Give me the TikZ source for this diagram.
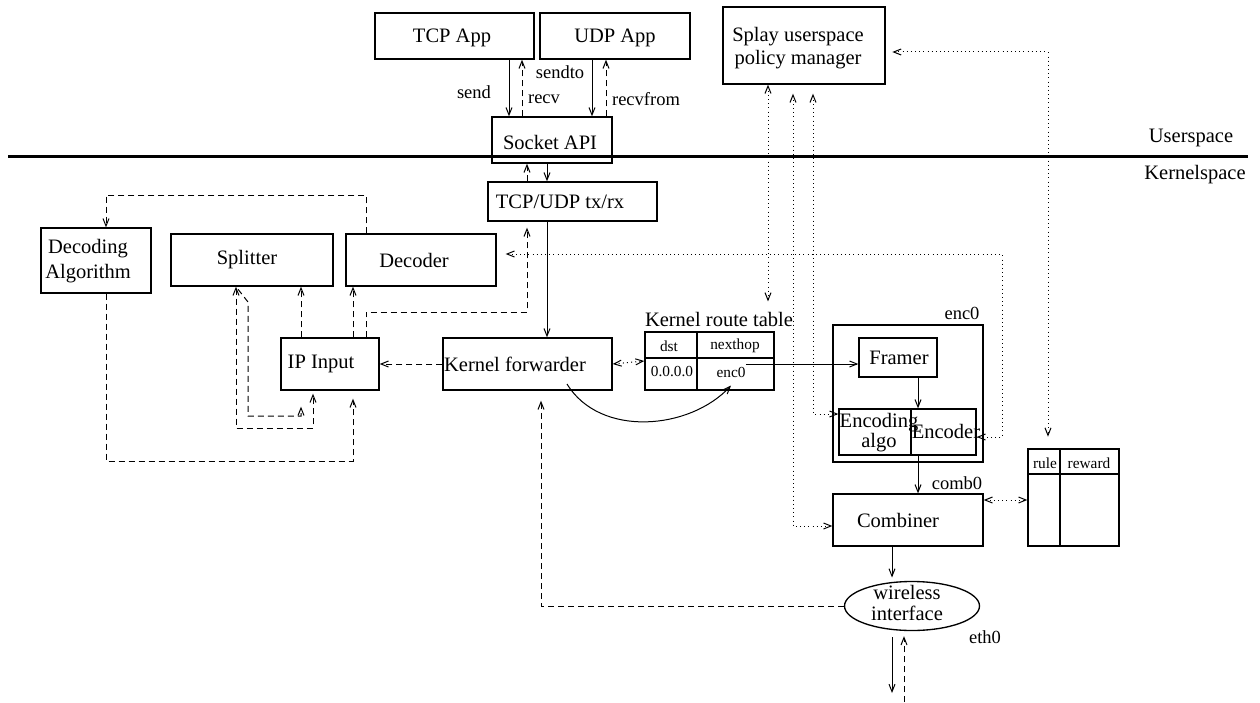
\documentclass[tikz,border=0pt]{standalone}
\usepackage{fontspec}
\setmainfont{Liberation Serif}
\usetikzlibrary{arrows.meta}
\usetikzlibrary{fit}
\usetikzlibrary{shapes.geometric}

\tikzset{
  blk/.style={draw, line width=0.8pt, inner sep=0pt},
  txt/.style={inner sep=0pt, font=\fontsize{12.3}{13.5}\selectfont},
  lbl/.style={inner sep=0pt, font=\fontsize{11.1}{13}\selectfont},
  cell/.style={inner sep=0pt, font=\fontsize{9.2}{11}\selectfont},
  wire/.style={line width=0.6pt, >={Straight Barb[length=4.5pt,width=3.6pt]}},
  dsh/.style={wire, dash pattern=on 3.6pt off 2.4pt},
  dts/.style={wire, dash pattern=on 0.6pt off 1.9pt},
}

\begin{document}
\begin{tikzpicture}[x=0.6pt, y=-0.6pt]
\useasboundingbox (0,0) rectangle (1260,702);

% user / kernel border
\draw[line width=1.8pt] (8,156) -- (1248,156);
\node[txt] (us) at (1191,138) {Userspace};
\node[txt] (ks) at (1195,175) {Kernelspace};

% userspace
\node[blk, fit={(375,13) (534,59)}] (tcpapp) {};
\node[txt] (tcpapptxt) at (452,38) {TCP App};
\node[blk, fit={(540,13) (690,59)}] (udpapp) {};
\node[txt] (udpapptxt) at (615,38) {UDP App};
\node[blk, fit={(723,7) (885,84)}] (splay) {};
\node[txt, align=center] (splaytxt) at (798,48) {Splay userspace\\policy manager};
\node[blk, fit={(492,117) (612,163)}] (sock) {};
\node[txt] (socktxt) at (550,142) {Socket API};

% kernel blocks
\node[blk, fit={(488,182) (657,221)}] (tcpudp) {};
\node[txt] (tcpudptxt) at (560,202) {TCP/UDP tx/rx};
\node[blk, fit={(41,228) (151,293)}] (decalg) {};
\node[txt, align=center, font=\fontsize{12.3}{15}\selectfont] (decalgtxt) at (88,261) {Decoding\\Algorithm};
\node[blk, fit={(171,234) (333,286)}] (split) {};
\node[txt] (splittxt) at (247,260) {Splitter};
\node[blk, fit={(346,234) (496,286)}] (dec) {};
\node[txt] (dectxt) at (414,260) {Decoder};
\node[blk, fit={(281,338) (379,390)}] (ipin) {};
\node[txt] (ipintxt) at (321,364) {IP Input};
\node[blk, fit={(443,338) (612,390)}] (kfwd) {};
\node[txt] (kfwdtxt) at (515,364) {Kernel forwarder};

% route table
\node[blk, fit={(645,332) (774,390)}] (rtab) {};
\draw[line width=0.8pt] (rtab.west |- 0,358) -- (rtab.east |- 0,358);
\draw[line width=0.8pt] (697,0 |- rtab.north) -- (697,0 |- rtab.south);
\node[txt] (rtabtxt) at (719,319) {Kernel route table};
\node[cell] (dst) at (669,346) {dst};
\node[cell] (nexthop) at (735,346) {nexthop};
\node[cell] (dest) at (672,372) {0.0.0.0};
\node[cell] (hop) at (731,372) {enc0};

% encoder
\node[blk, fit={(833,325) (983,462)}] (enc) {};
\node[lbl] (enctxt) at (962,313) {enc0};
\node[blk, fit={(859,338) (937,377)}] (framer) {};
\node[txt] (framertxt) at (899,358) {Framer};
\node[blk, fit={(839,409) (976,455)}] (encbox) {};
\draw[line width=0.8pt] (911,0 |- encbox.north) -- (911,0 |- encbox.south);
\node[txt, align=center, font=\fontsize{12.3}{12}\selectfont] (algotxt) at (879,433) {Encoding\\algo};
\node[txt] (encodertxt) at (946,431) {Encoder};

% combiner and rules
\node[lbl] (combtxt) at (957,483) {comb0};
\node[blk, fit={(833,494) (983,546)}] (comb) {};
\node[txt] (combintxt) at (898,520) {Combiner};
\node[blk, fit={(1028,449) (1119,546)}] (rules) {};
\draw[line width=0.8pt] (rules.west |- 0,474) -- (rules.east |- 0,474);
\draw[line width=0.8pt] (1060,0 |- rules.north) -- (1060,0 |- rules.south);
\node[cell] (rule) at (1045,463) {rule};
\node[cell] (reward) at (1089,463) {reward};

% interface
\node[draw, ellipse, line width=0.8pt, minimum width=81pt, minimum height=29.4pt, inner sep=0pt] (wifi) at (912,606) {};
\node[txt, align=center, font=\fontsize{12.3}{13}\selectfont] (wifitxt) at (907,603) {wireless\\interface};
\node[lbl] (eth) at (985,637) {eth0};
\coordinate (tx) at (892,693);
\coordinate (rx) at (904,702);

% socket calls
\node[lbl] (sendtxt) at (474,92) {send};
\node[lbl] (recvtxt) at (544,99) {recv};
\node[lbl] (sendtotxt) at (560,72) {sendto};
\node[lbl] (recvfromtxt) at (646,99) {recvfrom};
\draw[wire,->] (tcpapp.south -| 509,0) -- (sock.north -| 509,0);
\draw[dsh,->] (sock.north -| 522,0) -- (tcpapp.south -| 522,0);
\draw[wire,->] (udpapp.south -| 592,0) -- (sock.north -| 592,0);
\draw[dsh,->] (sock.north -| 606,0) -- (udpapp.south -| 606,0);
\draw[dsh,->] (tcpudp.north -| 527,0) -- (sock.south -| 527,0);
\draw[wire,->] (sock.south -| 547,0) -- (tcpudp.north -| 547,0);
\draw[wire,->] (tcpudp.south -| 547,0) -- (kfwd.north -| 547,0);

% receive side
\draw[dsh,->] (kfwd.west) -- (ipin.east);
\draw[dsh,->] (ipin.north -| 301,0) -- (split.south -| 301,0);
\draw[dsh,->] (ipin.north -| 353,0) -- (dec.south -| 353,0);
\draw[dsh,->,shorten >=3.6pt] (ipin.north -| 366,0) -- (366,312) -- (527,312) -- (tcpudp.south -| 527,0);
\draw[dsh,->] (dec.north -| 366,0) -- (366,195) -- (106,195) -- (decalg.north -| 106,0);
\draw[dsh,->,shorten >=4.8pt] (decalg.south -| 106,0) -- (106,461) -- (353,461) -- (ipin.south -| 353,0);
\draw[dsh,<->,shorten >=1.8pt] (split.south -| 236,0) -- (236,428) -- (313,428) -- (ipin.south -| 313,0);
\draw[dsh,->,shorten <=2pt,shorten >=9.6pt] (split.south -| 236,0) -- (248,302) -- (248,416) -- (301,416) -- (ipin.south -| 301,0);
\draw[dsh,->,shorten >=6pt] (wifi.west) -- (541,606) -- (kfwd.south -| 541,0);

% send side
\draw[dts,<->] (kfwd.east) -- (rtab.west);
\draw[wire,->] ([yshift=4pt]kfwd.south -| 567,0) .. controls (600,438) and (690,430) .. ([yshift=-4.8pt]hop.south);
\draw[wire,->] (hop.east |- kfwd.east) -- (framer.west |- kfwd.east);
\draw[wire,->] (framer.south -| 918,0) -- (encbox.north -| 918,0);
\draw[wire,->] (encbox.south -| 918,0) -- (comb.north -| 918,0);
\draw[wire,->,shorten >=2pt] (comb.south -| 892,0) -- (wifi.north -| 892,0);
\draw[wire,->,shorten <=3.6pt] (wifi.south -| tx) -- (tx);
\draw[dsh,->,shorten >=3pt] (rx) -- (wifi.south -| rx);

% policy manager control
\draw[dts,<->,shorten >=6pt] (splay.south -| 768,0) -- (rtabtxt.north -| 768,0);
\draw[dts,<->,shorten <=5.4pt] (splay.south -| 793,0) -- (793,526) -- (comb.west |- 0,526);
\draw[dts,<->,shorten <=5.4pt] (splay.south -| 813,0) -- (813,414) -- (encbox.west |- 0,414);
\draw[dts,<->,shorten <=4pt,shorten >=7pt] (splay.east |- 0,52) -- (1048,52) -- (rules.north -| 1048,0);
\draw[dts,<->,shorten <=5.4pt] (dec.east |- 0,254) -- (1002,254) -- (1002,437) -- (encbox.east |- 0,437);
\draw[dts,<->] (comb.east |- 0,500) -- (rules.west |- 0,500);
\end{tikzpicture}
\end{document}
